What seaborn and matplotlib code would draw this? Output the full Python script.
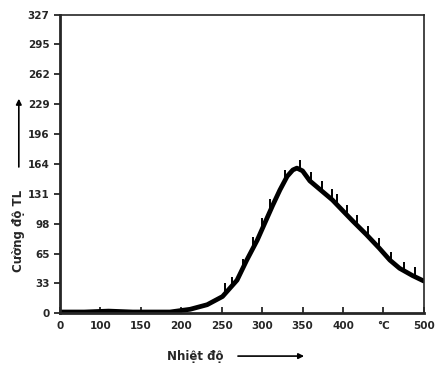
import numpy as np
import pandas as pd
import matplotlib
matplotlib.use("Agg")
import matplotlib.pyplot as plt
import seaborn as sns

# glow curve
temp = [50, 80, 110, 140, 170, 186, 211, 232, 251, 269, 281, 294, 306, 313,
        322, 331, 338, 343, 350, 359, 371, 387, 400, 412, 429, 445, 458, 470,
        486, 500]
tl = [1, 1, 2, 1, 1, 1, 4, 9, 18, 36, 58, 80, 104, 118,
      135, 150, 157, 159, 156, 145, 136, 124, 112, 101, 86, 71, 58, 49,
      41, 35]

# small recorder spikes sitting on the curve
spike_t = [254, 263, 276, 289, 300, 310, 328, 347, 361, 374, 386, 392, 405,
           417, 431, 445, 460, 476, 489]
spike_base = [22, 28, 48, 72, 93, 114, 146, 157, 144, 134, 125, 120, 107,
              96, 84, 71, 56, 45, 39]
spike_len = 11

x_ticks = [50, 100, 150, 200, 250, 300, 350, 400, 450, 500]
x_labels = ["0", "100", "150", "200", "250", "300", "350", "400", "°C", "500"]
y_ticks = [0, 33, 65, 98, 131, 164, 196, 229, 262, 295, 327]

sns.set_style("ticks")
plt.rcParams["font.family"] = ["DejaVu Sans"]

fig = plt.figure(figsize=(4.48, 3.69), dpi=100)
ax = fig.add_axes([0.134, 0.152, 0.812, 0.807])

df = pd.DataFrame({"t": temp, "tl": tl})
sns.lineplot(data=df, x="t", y="tl", color="black", linewidth=3.4, ax=ax)
ax.vlines(spike_t, spike_base, np.array(spike_base) + spike_len,
          color="black", linewidth=1.4)

ax.set_xlim(50, 500)
ax.set_ylim(0, 327)
ax.set_xticks(x_ticks)
ax.set_xticklabels(x_labels)
ax.set_yticks(y_ticks)
ax.tick_params(axis="x", direction="in", length=4, width=1.3, labelsize=7.5, pad=6)
ax.tick_params(axis="y", direction="out", length=4, width=1.3, labelsize=7.5)
for lab in ax.get_xticklabels() + ax.get_yticklabels():
    lab.set_fontweight("bold")

ax.spines["left"].set_linewidth(2.0)
ax.spines["bottom"].set_linewidth(2.0)
ax.spines["top"].set_linewidth(1.2)
ax.spines["right"].set_linewidth(1.2)

ax.set_xlabel("")
ax.set_ylabel("")
fig.text(0.042, 0.375, "Cường độ TL", rotation=90, ha="center", va="center",
         fontsize=8.5, fontweight="bold")
fig.text(0.435, 0.035, "Nhiệt độ", ha="center", va="center",
         fontsize=8.5, fontweight="bold")
fig.add_artist(matplotlib.patches.FancyArrowPatch(
    (0.042, 0.54), (0.042, 0.74), transform=fig.transFigure,
    arrowstyle="-|>", mutation_scale=8, color="black", linewidth=1.2))
fig.add_artist(matplotlib.patches.FancyArrowPatch(
    (0.525, 0.035), (0.685, 0.035), transform=fig.transFigure,
    arrowstyle="-|>", mutation_scale=8, color="black", linewidth=1.2))

fig.savefig("out.png", dpi=100)
